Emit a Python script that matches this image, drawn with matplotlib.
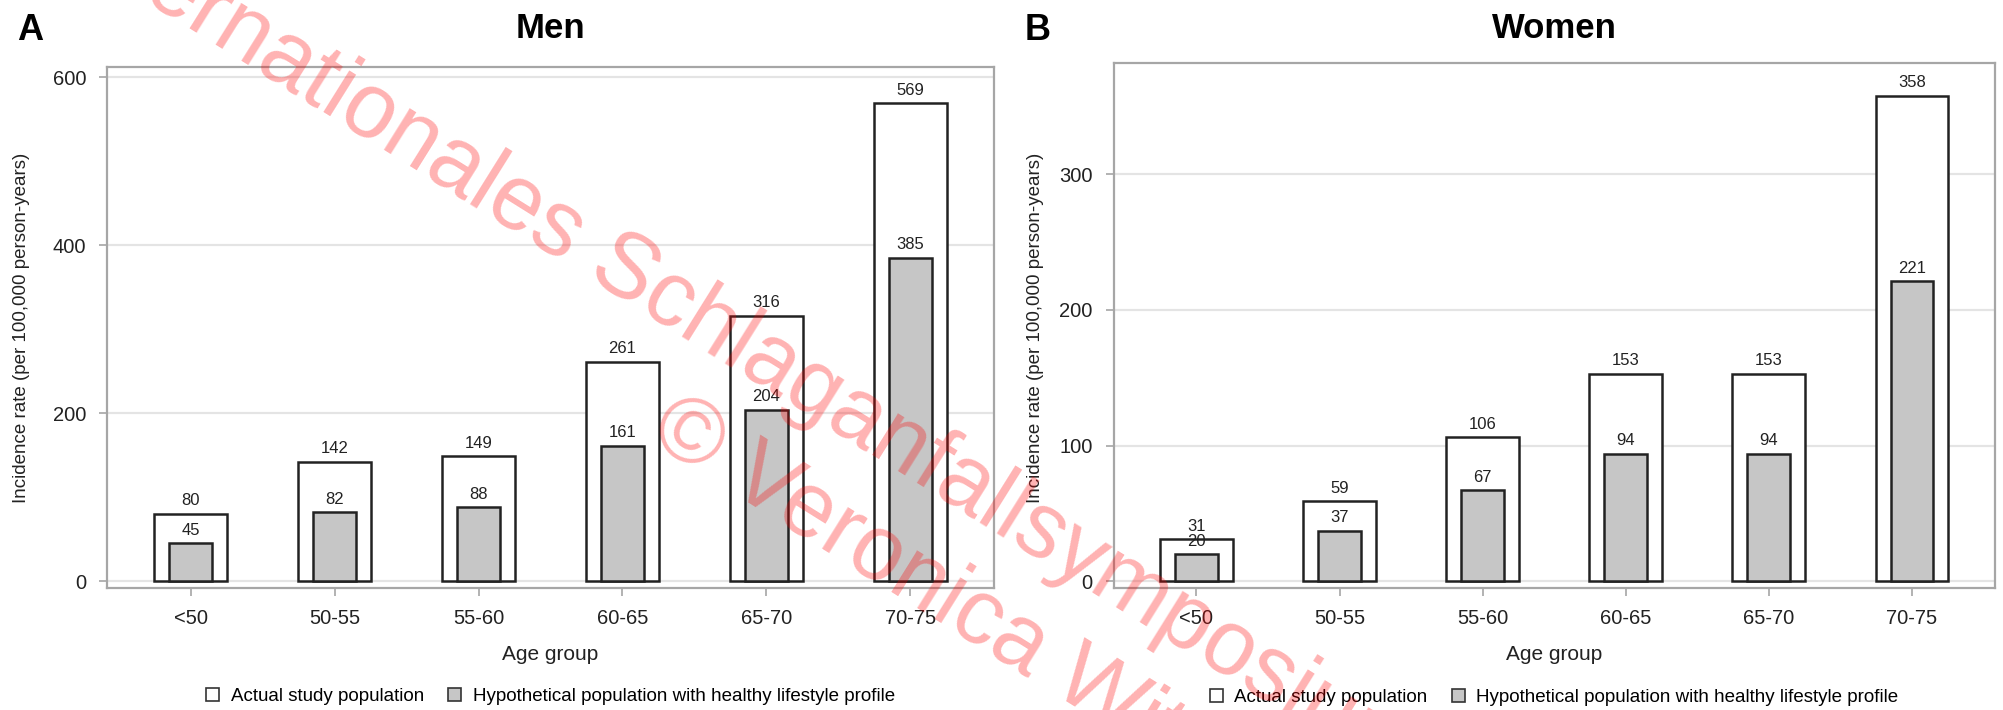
"""Stroke incidence by age group: actual vs hypothetical healthy-lifestyle population."""
import matplotlib
matplotlib.use('Agg')
import matplotlib.pyplot as plt
from matplotlib.patches import Patch
import numpy as np

plt.rcParams['font.family'] = ['Liberation Sans', 'DejaVu Sans']

AGE_GROUPS = ["<50", "50-55", "55-60", "60-65", "65-70", "70-75"]

MEN_ACTUAL = [80, 142, 149, 261, 316, 569]
MEN_HEALTHY = [45, 82, 88, 161, 204, 385]
WOMEN_ACTUAL = [31, 59, 106, 153, 153, 358]
WOMEN_HEALTHY = [20, 37, 67, 94, 94, 221]

MEN_TICKS = [0, 200, 400, 600]
WOMEN_TICKS = [0, 100, 200, 300]

W, H = 2003, 710
FRAME = '#a6a6a6'
GRID = '#e4e4e4'
GREY_FILL = '#c6c6c6'


def px(x, y):
    return x / W, 1 - y / H


def draw_panel(ax, actual, healthy, yticks, ylim):
    x = np.arange(len(AGE_GROUPS))
    b1 = ax.bar(x, actual, 0.51, color='white', edgecolor='#222222', linewidth=1.8, zorder=2)
    b2 = ax.bar(x, healthy, 0.30, color=GREY_FILL, edgecolor='#222222', linewidth=1.8, zorder=3)
    for bars, vals in ((b1, actual), (b2, healthy)):
        for bar, v in zip(bars, vals):
            ax.annotate(f'{v}', xy=(bar.get_x() + bar.get_width() / 2, v),
                        xytext=(0, 4), textcoords='offset points',
                        ha='center', va='bottom', fontsize=12, color='#222222', zorder=4)

    ax.set_xlim(-0.58, 5.58)
    ax.set_ylim(*ylim)
    ax.set_xticks(x)
    ax.set_xticklabels(AGE_GROUPS)
    ax.set_yticks(yticks)
    ax.tick_params(axis='both', labelsize=14.5, color=FRAME, length=6, width=1.2,
                   pad=9, labelcolor='#222222')
    ax.yaxis.grid(True, color=GRID, linewidth=1.6, zorder=0)
    ax.set_axisbelow(True)
    for s in ax.spines.values():
        s.set_color(FRAME)
        s.set_linewidth(1.6)

    ax.set_xlabel("Age group", fontsize=15, labelpad=12, color='#222222')

    handles = [Patch(facecolor='white', edgecolor='#333333', linewidth=1.2),
               Patch(facecolor=GREY_FILL, edgecolor='#333333', linewidth=1.2)]
    ax.legend(handles, ["Actual study population", "Hypothetical population with healthy lifestyle profile"],
              loc='center', bbox_to_anchor=(0.5, -0.209), ncol=2, frameon=False,
              fontsize=13.5, handlelength=0.7, handleheight=0.7, handletextpad=0.6,
              columnspacing=1.3)


fig = plt.figure(figsize=(W / 100, H / 100), dpi=100)

ax1 = fig.add_axes([107 / W, 1 - 588 / H, 887 / W, 521 / H])
draw_panel(ax1, MEN_ACTUAL, MEN_HEALTHY, MEN_TICKS, (-8, 612))

ax2 = fig.add_axes([1113.5 / W, 1 - 588 / H, 881.5 / W, 525 / H])
draw_panel(ax2, WOMEN_ACTUAL, WOMEN_HEALTHY, WOMEN_TICKS, (-5, 382))

ylab = "Incidence rate (per 100,000 person-years)"
fig.text(*px(22, 328), ylab, rotation=90, ha='center', va='center', fontsize=13.5, color='#222222')
fig.text(*px(1036, 328), ylab, rotation=90, ha='center', va='center', fontsize=13.5, color='#222222')

fig.text(*px(550, 28), "Men", ha='center', va='center', fontsize=25, fontweight='bold')
fig.text(*px(1554, 28), "Women", ha='center', va='center', fontsize=25, fontweight='bold')
fig.text(*px(30, 30), "A", ha='center', va='center', fontsize=26, fontweight='bold')
fig.text(*px(1038, 30), "B", ha='center', va='center', fontsize=26, fontweight='bold')

# watermark
wm = dict(rotation=-32, rotation_mode='anchor', ha='left', va='baseline',
          fontsize=66, color='red', alpha=0.3, zorder=10)
fig.text(*px(54, -56), "Internationales Schlaganfallsymposium", **wm)
fig.text(*px(647, 439), "© Veronica Wit", **wm)

plt.savefig("out.png", dpi=100)
